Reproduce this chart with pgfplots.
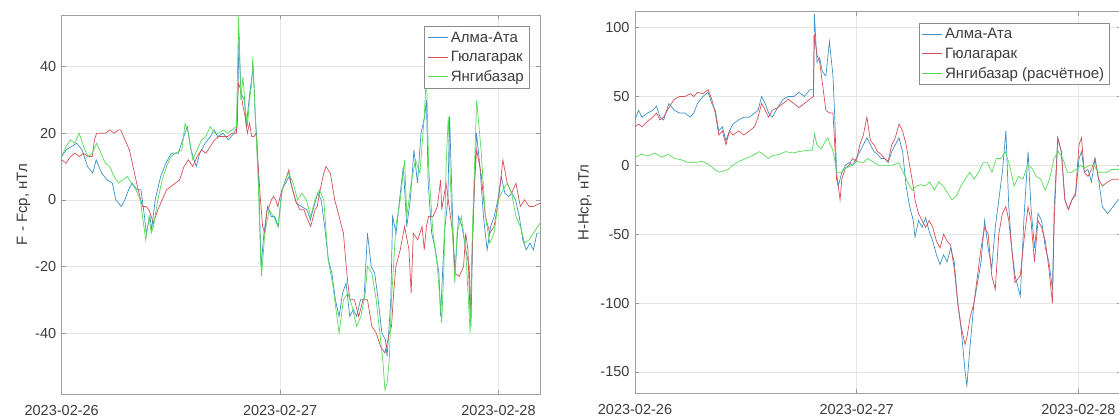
\documentclass[border=0pt]{standalone}
\usepackage{fontspec}
\setmainfont{Liberation Sans}
\usepackage{pgfplots}
\pgfplotsset{compat=1.18}
\definecolor{cA}{RGB}{60,145,200}
\definecolor{cG}{RGB}{215,80,85}
\definecolor{cY}{RGB}{85,220,85}
\definecolor{tickgray}{RGB}{60,60,60}
\pgfplotsset{
  mystyle/.style={
    scale only axis,
    axis line style={draw=black!38, line width=0.9pt},
    every tick/.style={draw=black!40, line width=0.6pt},
    major tick length=4pt,
    tick align=inside,
    grid=major,
    grid style={black!10, line width=0.5pt},
    tick label style={font=\fontsize{14.5}{16}\selectfont, text=tickgray},
    label style={font=\fontsize{15}{17}\selectfont, text=tickgray},
    /pgf/number format/assume math mode=true,
    xmin=0, xmax=2.19,
    xtick={0,1,2},
    xticklabels={2023-02-26,2023-02-27,2023-02-28},
    xticklabel style={yshift=-8pt},
    yticklabel style={xshift=-2pt},
    legend cell align=left,
    legend style={at={(1,1)}, anchor=north east, xshift=-10.5pt, yshift=-11.5pt,
      draw=black!45, fill=white, line width=0.6pt,
      font=\fontsize{15}{17}\selectfont, text=tickgray,
      inner xsep=3pt, inner ysep=2.5pt, row sep=2.5pt,
      nodes={inner sep=2.5pt}},
    legend image code/.code={\draw[##1, line width=0.6pt] (0pt,0pt) -- (20pt,0pt);},
    every axis plot/.append style={line width=0.7pt},
  }
}
\begin{document}
\begin{tikzpicture}
\useasboundingbox (0,0) rectangle (1119pt,418pt);
% ---------------- left panel ----------------
\begin{axis}[mystyle,
  at={(61.7pt,24pt)}, anchor=south west,
  width=478.3pt, height=379pt,
  ymin=-58.3, ymax=55.5,
  ytick={-40,-20,0,20,40},
  ylabel={F - Fср, нТл},
  ylabel style={at={(-0.08,0.5)}, anchor=center},
]
\addplot[cA] table {
0 13
0.02 15
0.044 16
0.069 17
0.093 15
0.118 10
0.142 8
0.158 12
0.183 8
0.208 6
0.232 5
0.248 0
0.273 -2
0.289 0
0.306 3
0.322 5
0.346 3
0.363 3
0.379 -5
0.387 -10
0.404 -5
0.412 -9
0.428 0
0.453 7
0.477 11
0.502 14
0.534 14
0.559 19
0.575 22
0.592 15
0.616 10
0.632 14
0.657 17
0.681 19
0.698 21
0.714 19
0.739 20
0.763 18
0.788 20
0.804 22
0.812 50
0.820 32
0.837 30
0.845 22
0.861 32
0.877 40
0.886 25
0.894 18
0.902 5
0.913 -20
0.926 -10
0.943 -2
0.959 -5
0.975 -5
0.992 -8
1.008 3
1.025 5
1.041 7
1.057 3
1.074 -1
1.098 -2
1.123 -3
1.139 -6
1.155 -2
1.172 2
1.188 0
1.204 -8
1.221 -18
1.237 -22
1.253 -30
1.270 -35
1.286 -28
1.302 -25
1.319 -35
1.335 -33
1.351 -35
1.368 -30
1.384 -30
1.400 -10
1.417 -20
1.433 -22
1.449 -30
1.466 -40
1.482 -42
1.490 -47
1.507 -30
1.515 -5
1.531 -10
1.547 0
1.564 10
1.580 -8
1.596 0
1.613 15
1.629 5
1.645 20
1.662 25
1.670 30
1.678 5
1.694 -10
1.711 -15
1.727 -22
1.735 -35
1.752 -10
1.768 0
1.776 25
1.792 -10
1.801 -22
1.817 -5
1.833 -8
1.850 -15
1.866 -20
1.874 -38
1.882 -10
1.899 20
1.915 10
1.931 -5
1.948 -15
1.964 -8
1.980 -5
1.997 0
2.013 7
2.029 2
2.046 1
2.062 2
2.078 0
2.095 -5
2.111 -12
2.127 -15
2.144 -13
2.160 -15
2.176 -10
2.19 -10
};
\addplot[cG] table {
0 12
0.02 11
0.04 13
0.06 14
0.08 13
0.1 14
0.12 13
0.14 13
0.15 18
0.16 20
0.18 20
0.2 20
0.22 21
0.24 20
0.26 21
0.27 21
0.29 18
0.31 15
0.33 9
0.35 3
0.37 -2
0.385 -2
0.40 -3
0.41 -5
0.42 -7
0.44 -3
0.46 0
0.48 3
0.50 4
0.52 5
0.54 6
0.56 10
0.58 12
0.60 10
0.62 13
0.64 15
0.66 14
0.68 16
0.70 18
0.72 19
0.74 19
0.76 19
0.78 20
0.80 20
0.805 30
0.81 35
0.82 33
0.83 28
0.84 25
0.85 20
0.86 23
0.87 19
0.88 19
0.89 20
0.90 10
0.91 0
0.92 -8
0.93 -10
0.94 -3
0.95 -2
0.96 0
0.97 1
0.98 0
0.99 -2
1.0 1
1.02 5
1.04 9
1.05 5
1.07 0
1.09 -3
1.11 -3
1.12 -5
1.14 -8
1.16 -3
1.17 -2
1.18 2
1.20 8
1.21 10
1.23 8
1.25 0
1.27 -5
1.29 -10
1.30 -18
1.31 -25
1.32 -30
1.34 -30
1.36 -35
1.38 -30
1.40 -30
1.42 -38
1.44 -40
1.46 -44
1.48 -46
1.50 -40
1.51 -38
1.52 -28
1.53 -20
1.55 -15
1.57 -8
1.59 -15
1.60 -28
1.61 -10
1.63 -12
1.65 -8
1.66 -15
1.67 -8
1.68 -5
1.70 -5
1.72 -2
1.735 6
1.74 -3
1.76 5
1.77 0
1.78 -5
1.79 -10
1.80 -22
1.82 -23
1.84 -20
1.85 -10
1.86 -15
1.87 -35
1.88 -15
1.89 5
1.90 15
1.92 8
1.94 -5
1.96 -10
1.98 -8
2.0 0
2.02 12
2.04 5
2.06 2
2.08 5
2.10 -2
2.12 0
2.14 -2
2.16 -2
2.19 -1
};
\addplot[cY] table {
0 13
0.02 16
0.04 18
0.06 17
0.08 20
0.10 16
0.12 13
0.14 14
0.16 17
0.18 14
0.20 11
0.22 10
0.24 7
0.26 5
0.28 6
0.30 7
0.32 5
0.34 3
0.36 0
0.37 -5
0.385 -12
0.40 -5
0.41 -10
0.42 -8
0.44 0
0.46 6
0.48 10
0.50 13
0.52 14
0.55 15
0.565 23
0.58 20
0.60 12
0.62 15
0.64 18
0.66 19
0.68 22
0.70 20
0.72 20
0.74 21
0.76 20
0.78 21
0.80 22
0.81 55
0.82 30
0.83 37
0.84 28
0.85 22
0.86 30
0.87 35
0.875 43
0.88 35
0.89 20
0.90 5
0.91 -15
0.915 -23
0.93 -10
0.95 -3
0.97 -5
0.99 -8
1.01 3
1.03 7
1.04 8
1.06 5
1.08 0
1.10 2
1.12 0
1.14 -5
1.16 0
1.18 3
1.20 0
1.22 -18
1.24 -25
1.26 -35
1.27 -40
1.29 -30
1.31 -28
1.33 -32
1.35 -38
1.37 -35
1.39 -28
1.40 -20
1.42 -22
1.44 -30
1.46 -42
1.47 -48
1.48 -57
1.49 -55
1.50 -48
1.51 -30
1.53 -8
1.55 0
1.57 12
1.58 -5
1.60 5
1.62 12
1.64 8
1.66 25
1.67 38
1.68 10
1.70 -10
1.72 -20
1.74 -37
1.75 -20
1.76 10
1.77 25
1.78 5
1.80 -25
1.81 -10
1.83 -5
1.85 -15
1.87 -40
1.88 -10
1.90 30
1.92 15
1.94 -5
1.96 -13
1.98 -10
2.00 0
2.02 3
2.04 5
2.06 2
2.08 -5
2.10 -8
2.12 -13
2.14 -12
2.16 -10
2.19 -7
};
\legend{Алма-Ата, Гюлагарак, Янгибазар}
\end{axis}
% ---------------- right panel ----------------
\begin{axis}[mystyle,
  at={(635pt,24.7pt)}, anchor=south west,
  width=485.5pt, height=381.6pt,
  ymin=-165.5, ymax=111.6,
  ytick={-150,-100,-50,0,50,100},
  ylabel={H-Hср, нТл},
  ylabel style={at={(-0.103,0.5)}, anchor=center},
]
\addplot[cA] table {
0 33
0.016 40
0.032 35
0.056 38
0.08 40
0.097 43
0.113 35
0.129 33
0.153 45
0.177 40
0.201 38
0.225 38
0.249 35
0.265 38
0.282 45
0.306 50
0.330 53
0.346 45
0.362 40
0.378 25
0.394 28
0.410 18
0.426 25
0.442 30
0.467 33
0.491 35
0.515 35
0.539 38
0.555 40
0.571 50
0.587 45
0.603 38
0.619 35
0.644 42
0.668 48
0.692 50
0.716 50
0.740 53
0.764 50
0.788 55
0.805 55
0.809 110
0.821 75
0.833 78
0.845 68
0.861 65
0.877 90
0.893 65
0.901 35
0.909 -5
0.917 -15
0.933 -5
0.949 0
0.965 2
0.981 0
0.998 5
1.014 10
1.030 15
1.046 20
1.062 15
1.078 10
1.094 8
1.110 5
1.126 5
1.142 2
1.158 10
1.174 15
1.191 20
1.207 10
1.223 -15
1.239 -30
1.255 -40
1.263 -52
1.279 -40
1.295 -45
1.311 -38
1.327 -48
1.343 -55
1.360 -65
1.376 -72
1.392 -65
1.408 -70
1.424 -60
1.440 -70
1.456 -100
1.472 -120
1.489 -150
1.497 -160
1.512 -130
1.529 -100
1.545 -85
1.561 -70
1.577 -40
1.593 -60
1.609 -75
1.625 -45
1.641 -25
1.657 -5
1.673 25
1.686 -30
1.699 -60
1.714 -80
1.738 -95
1.754 -40
1.773 10
1.786 -30
1.802 -60
1.818 -35
1.834 -40
1.851 -60
1.867 -70
1.883 -90
1.891 -30
1.907 20
1.923 10
1.939 -25
1.955 -32
1.971 -25
1.987 -22
2.003 5
2.014 10
2.027 -5
2.043 -3
2.059 -12
2.075 5
2.091 -10
2.108 -30
2.132 -35
2.156 -30
2.180 -25
2.19 -24
};
\addplot[cG] table {
0 28
0.016 30
0.032 28
0.056 32
0.08 35
0.097 38
0.113 33
0.129 35
0.153 42
0.177 48
0.201 50
0.225 50
0.249 52
0.265 50
0.282 53
0.306 52
0.330 55
0.346 48
0.362 38
0.378 22
0.394 25
0.410 15
0.426 25
0.442 22
0.467 25
0.491 22
0.515 25
0.539 28
0.555 35
0.571 45
0.587 40
0.603 35
0.619 40
0.644 42
0.668 45
0.692 48
0.716 45
0.740 42
0.764 45
0.788 48
0.805 50
0.809 95
0.821 80
0.833 75
0.845 60
0.861 40
0.877 38
0.893 38
0.901 15
0.909 -10
0.917 -15
0.925 -25
0.933 -10
0.949 -2
0.965 0
0.981 5
0.998 3
1.014 15
1.030 22
1.046 35
1.062 18
1.078 15
1.094 10
1.110 8
1.126 5
1.142 3
1.158 15
1.174 20
1.191 30
1.207 25
1.223 15
1.239 0
1.255 -15
1.263 -25
1.279 -35
1.295 -40
1.311 -45
1.327 -40
1.343 -45
1.360 -55
1.376 -60
1.392 -50
1.408 -55
1.424 -58
1.440 -75
1.456 -100
1.472 -118
1.489 -130
1.497 -125
1.512 -110
1.529 -100
1.545 -80
1.561 -60
1.577 -45
1.593 -50
1.609 -80
1.625 -90
1.641 -50
1.657 -35
1.673 -30
1.686 -40
1.699 -60
1.714 -85
1.738 -80
1.754 -55
1.773 -30
1.786 -40
1.802 -70
1.818 -40
1.834 -45
1.851 -55
1.867 -75
1.883 -100
1.891 -40
1.907 20
1.923 10
1.939 -25
1.955 -32
1.971 -25
1.987 -20
2.003 15
2.014 20
2.027 -5
2.043 -8
2.059 -3
2.075 5
2.091 -10
2.108 -15
2.132 -12
2.156 -10
2.180 -10
2.19 -10
};
\addplot[cY] table {
0 6
0.03 8
0.06 7
0.09 9
0.12 6
0.15 8
0.18 5
0.21 4
0.24 2
0.27 2
0.30 3
0.33 1
0.36 -3
0.38 -5
0.40 -4
0.42 -3
0.44 0
0.47 3
0.50 5
0.53 7
0.56 10
0.58 8
0.60 5
0.62 7
0.65 8
0.68 10
0.71 9
0.74 10
0.78 11
0.80 11
0.81 23
0.82 15
0.84 12
0.86 18
0.87 20
0.88 15
0.89 12
0.90 5
0.91 -5
0.93 -5
0.95 -2
0.98 0
1.00 3
1.03 2
1.05 5
1.08 2
1.10 0
1.13 0
1.16 0
1.19 2
1.21 -5
1.23 -12
1.25 -18
1.27 -15
1.29 -14
1.31 -15
1.33 -12
1.35 -18
1.37 -12
1.39 -15
1.41 -20
1.43 -25
1.45 -22
1.47 -15
1.49 -10
1.51 -5
1.53 -10
1.55 -5
1.57 2
1.59 2
1.61 -5
1.63 5
1.65 5
1.67 10
1.69 0
1.71 -15
1.73 -8
1.75 -10
1.77 0
1.79 -2
1.81 -8
1.83 -10
1.85 -18
1.87 -10
1.89 5
1.91 10
1.93 5
1.95 -5
1.97 -5
1.99 -3
2.01 0
2.03 -2
2.05 0
2.07 0
2.09 -5
2.11 -5
2.13 -5
2.15 -3
2.19 -3
};
\legend{Алма-Ата, Гюлагарак, Янгибазар (расчётное)}
\end{axis}
\end{tikzpicture}
\end{document}
